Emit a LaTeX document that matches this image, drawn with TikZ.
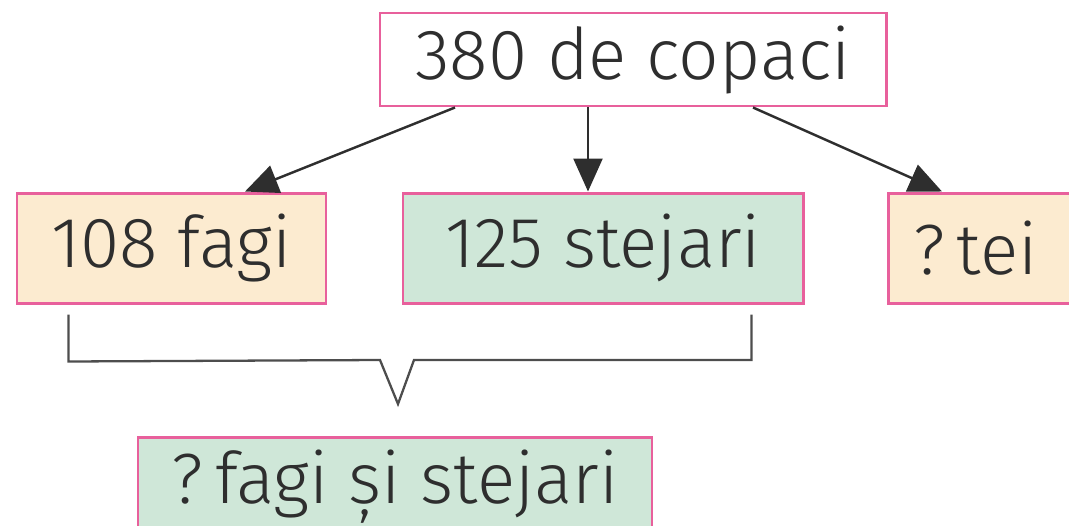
\documentclass[tikz,border=0pt]{standalone}
\usepackage{fontspec}
\setmainfont{Fira Sans Light}
\usetikzlibrary{arrows.meta,calc}
\definecolor{pinkb}{HTML}{E8609C}
\definecolor{peach}{HTML}{FCEBD0}
\definecolor{mint}{HTML}{CFE7D8}
\definecolor{ink}{HTML}{2E2E2E}
\tikzset{
  box/.style={draw=pinkb, line width=1.7pt, inner sep=0pt, text=ink,
    font=\fontsize{40.5}{42}\selectfont, anchor=center},
  arr/.style={draw=ink, line width=1.4pt, -{Triangle[length=0.66cm,width=0.58cm]}},
  brace/.style={draw=ink!85, line width=1.3pt, line join=miter}
}
\begin{document}
\begin{tikzpicture}[x=0.02cm,y=-0.02cm]
\useasboundingbox (0,0) rectangle (1069,525);
\clip (0,0) rectangle (1069,525);
\node[box, fill=white, minimum width=506*0.02cm, minimum height=93*0.02cm] (top) at (633,59.5) {\raisebox{-5pt}{380 de copaci}};
\node[box, fill=peach, minimum width=309*0.02cm, minimum height=110*0.02cm] (fagi) at (171.5,248) {108 fagi};
\node[box, fill=mint, minimum width=400*0.02cm, minimum height=110*0.02cm] (stej) at (603,248) {125 stejari};
\node[box, fill=peach, minimum width=200*0.02cm, minimum height=110*0.02cm, text width=150*0.02cm, align=left] (tei) at (988,248) {?\,tei};
\node[box, fill=mint, minimum width=514*0.02cm, minimum height=100*0.02cm] (sum) at (395,487) {?\,fagi și stejari};
\draw[arr] ($(top.south)+(-178,0)$) -- ($(fagi.north)+(73.5,0)$);
\draw[arr] ($(top.south)+(-45,0)$) -- ($(stej.north)+(-15,0)$);
\draw[arr] ($(top.south)+(120,0)$) -- ($(tei.north)+(-46,0)$);
\coordinate (bl) at ($(fagi.south west)+(53,10)$);
\coordinate (br) at ($(stej.south east)+(-53,10)$);
\draw[brace] (bl) -- ++(0,47) -- (380,360) -- (398,404) -- (414,360) -- (br |- 0,360) -- (br);
\end{tikzpicture}
\end{document}
